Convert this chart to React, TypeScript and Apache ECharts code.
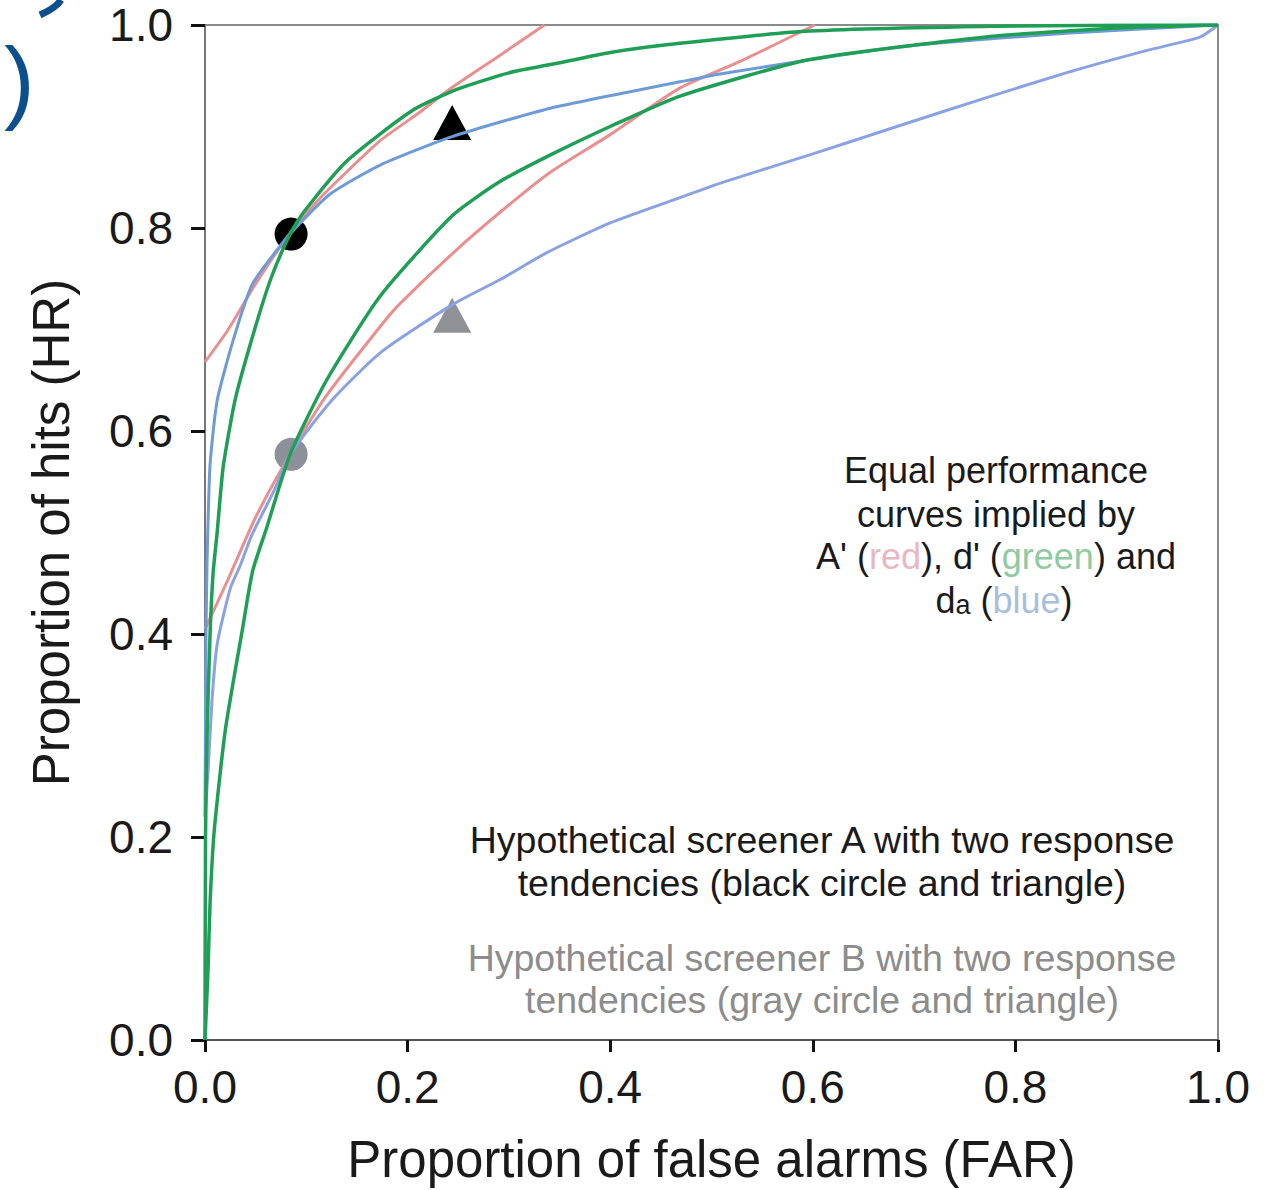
import React, { useEffect, useRef } from "react";
import * as echarts from "echarts";

// Equal performance curves (FAR, HR)
const redA: [number, number][] = [[0, 0.668], [0.023, 0.7], [0.05, 0.745], [0.084, 0.795], [0.116, 0.832], [0.173, 0.886], [0.212, 0.914], [0.239, 0.935], [0.288, 0.968], [0.335, 1.0]];
const redB: [number, number][] = [[0, 0.405], [0.022, 0.452], [0.05, 0.515], [0.084, 0.577], [0.12, 0.635], [0.173, 0.703], [0.192, 0.725], [0.25, 0.78], [0.304, 0.826], [0.341, 0.855], [0.4, 0.892], [0.469, 0.938], [0.53, 0.965], [0.602, 1.0]];
const greenA: [number, number][] = [[0, 0], [0.0005, 0.2], [0.002, 0.3], [0.005, 0.4], [0.008, 0.46], [0.012, 0.5], [0.018, 0.565], [0.03, 0.632], [0.049, 0.7], [0.065, 0.75], [0.084, 0.794], [0.097, 0.815], [0.14, 0.866], [0.205, 0.916], [0.25, 0.937], [0.304, 0.954], [0.341, 0.961], [0.4, 0.973], [0.469, 0.982], [0.597, 0.994], [0.8, 0.999], [1, 1]];
const greenB: [number, number][] = [[0, 0], [0.003, 0.07], [0.005, 0.135], [0.009, 0.205], [0.02, 0.305], [0.037, 0.405], [0.047, 0.462], [0.061, 0.505], [0.084, 0.577], [0.12, 0.65], [0.173, 0.733], [0.244, 0.812], [0.29, 0.845], [0.341, 0.872], [0.4, 0.9], [0.469, 0.93], [0.597, 0.966], [0.769, 0.988], [0.9, 0.997], [1, 1]];
const blueA: [number, number][] = [[0, 0.22], [0.0005, 0.32], [0.001, 0.4], [0.002, 0.47], [0.003, 0.51], [0.005, 0.567], [0.012, 0.63], [0.028, 0.69], [0.047, 0.745], [0.084, 0.794], [0.123, 0.833], [0.173, 0.862], [0.244, 0.89], [0.341, 0.918], [0.469, 0.944], [0.51, 0.952], [0.683, 0.978], [0.854, 0.992], [1, 1]];
const blueB: [number, number][] = [[0, 0.22], [0.003, 0.264], [0.007, 0.336], [0.012, 0.39], [0.025, 0.445], [0.035, 0.468], [0.046, 0.497], [0.069, 0.543], [0.084, 0.577], [0.125, 0.63], [0.173, 0.677], [0.245, 0.725], [0.291, 0.749], [0.338, 0.776], [0.4, 0.805], [0.469, 0.83], [0.511, 0.845], [0.6, 0.873], [0.683, 0.9], [0.77, 0.928], [0.854, 0.954], [0.93, 0.975], [0.982, 0.988], [1, 1]];

// Hypothetical screeners: circle and triangle
const screenerACircle: [number, number][] = [[0.085, 0.794]];
const screenerATriangle: [number, number][] = [[0.244, 0.904]];
const screenerBCircle: [number, number][] = [[0.085, 0.577]];
const screenerBTriangle: [number, number][] = [[0.244, 0.714]];

const axisTicks = [0, 0.2, 0.4, 0.6, 0.8, 1.0];

const FONT = "'Liberation Sans', Arial, Helvetica, sans-serif";

export default function App() {
  const ref = useRef<HTMLDivElement>(null);
  useEffect(() => {
    if (!ref.current) return;
    const chart = echarts.init(ref.current, null, { renderer: "svg" });

    const line = (name: string, data: [number, number][], color: string, width: number) => ({
      name,
      type: "line",
      data,
      showSymbol: false,
      symbol: "none",
      smooth: 0.2,
      z: 3,
      lineStyle: { color, width },
      emphasis: { disabled: true },
    });
    const marker = (name: string, data: [number, number][], symbol: string, size: any, color: string) => ({
      name,
      type: "scatter",
      data,
      symbol,
      symbolSize: size,
      z: 1,
      itemStyle: { color, opacity: 1 },
      emphasis: { disabled: true },
    });

    const textLine = (x: number, y: number, text: string, fill: string, size: number, rich?: any) => ({
      type: "text",
      x,
      y,
      silent: true,
      style: {
        text,
        fill,
        font: `${size}px ${FONT}`,
        align: "center",
        verticalAlign: "middle",
        rich,
      },
    });

    const richBase = { fontSize: 36, fontFamily: FONT };
    const rich1 = {
      k: { ...richBase, fill: "#1a1a1a" },
      r: { ...richBase, fill: "#e9b7c2" },
      g: { ...richBase, fill: "#8fcaa2" },
      b: { ...richBase, fill: "#a9bedc" },
      s: { fontSize: 27, fontFamily: FONT, fill: "#1a1a1a", padding: [10, 0, 0, 0] },
    };

    chart.setOption({
      animation: false,
      backgroundColor: "#ffffff",
      textStyle: { fontFamily: FONT },
      grid: {
        left: 205,
        right: 61,
        top: 25,
        bottom: 148,
        show: true,
        borderColor: "#8a8a8a",
        borderWidth: 2,
        backgroundColor: "transparent",
      },
      xAxis: {
        type: "value",
        min: axisTicks[0],
        max: axisTicks[axisTicks.length - 1],
        interval: 0.2,
        name: "Proportion of false alarms (FAR)",
        nameLocation: "middle",
        nameGap: 94,
        nameTextStyle: { fontSize: 51, color: "#1a1a1a", fontFamily: FONT },
        axisLine: { show: true, lineStyle: { color: "#555", width: 2 } },
        axisTick: { show: true, length: 12, lineStyle: { color: "#111", width: 3 } },
        axisLabel: { fontSize: 46, color: "#1a1a1a", margin: 24, formatter: (v: number) => v.toFixed(1) },
        splitLine: { show: false },
      },
      yAxis: {
        type: "value",
        min: axisTicks[0],
        max: axisTicks[axisTicks.length - 1],
        interval: 0.2,
        name: "Proportion of hits (HR)",
        nameLocation: "middle",
        nameGap: 128,
        nameTextStyle: { fontSize: 51, color: "#1a1a1a", fontFamily: FONT },
        axisLine: { show: true, lineStyle: { color: "#777", width: 2 } },
        axisTick: { show: true, length: 14, lineStyle: { color: "#111", width: 3 } },
        axisLabel: { fontSize: 46, color: "#1a1a1a", margin: 32, formatter: (v: number) => v.toFixed(1) },
        splitLine: { show: false },
      },
      series: [
        marker("A circle", screenerACircle, "circle", 33, "#000000"),
        marker("A triangle", screenerATriangle, "triangle", [38, 35], "#000000"),
        marker("B circle", screenerBCircle, "circle", 33, "#8c9099"),
        marker("B triangle", screenerBTriangle, "triangle", [38, 35], "#8f9194"),
        line("A' screener A", redA, "#e98f8f", 3),
        line("A' screener B", redB, "#e98f8f", 3),
        line("da screener A", blueA, "#6e9bd6", 3),
        line("da screener B", blueB, "#8ba2e2", 3),
        line("d' screener A", greenA, "#1f9f55", 3.5),
        line("d' screener B", greenB, "#1f9f55", 3.5),
      ],
      graphic: [
        {
          type: "text",
          x: 4,
          y: 34,
          silent: true,
          style: { text: ")", font: `92px ${FONT}`, fill: "#0b4f8c", align: "left", verticalAlign: "top" },
        },
        {
          type: "bezierCurve",
          silent: true,
          shape: { x1: 61, y1: 0, x2: 40, y2: 15, cpx1: 56, cpy1: 8 },
          style: { stroke: "#0b4f8c", lineWidth: 7, fill: "none", lineCap: "butt" },
        },
        textLine(996, 470, "Equal performance", "#1a1a1a", 36),
        textLine(996, 514, "curves implied by", "#1a1a1a", 36),
        textLine(996, 556, "{k|A' (}{r|red}{k|), d' (}{g|green}{k|) and}", "#1a1a1a", 36, rich1),
        textLine(1004, 600, "{k|d}{s|a}{k| (}{b|blue}{k|)}", "#1a1a1a", 36, rich1),
        textLine(822, 840, "Hypothetical screener A with two response", "#1a1a1a", 37.5),
        textLine(822, 883, "tendencies (black circle and triangle)", "#1a1a1a", 37.5),
        textLine(822, 958, "Hypothetical screener B with two response", "#8c8c8c", 37.5),
        textLine(822, 1000, "tendencies (gray circle and triangle)", "#8c8c8c", 37.5),
      ],
    });
    return () => chart.dispose();
  }, []);

  return (
    <div
      ref={ref}
      style={{ position: "absolute", left: 0, top: 0, width: 1279, height: 1190, background: "#fff" }}
    />
  );
}
